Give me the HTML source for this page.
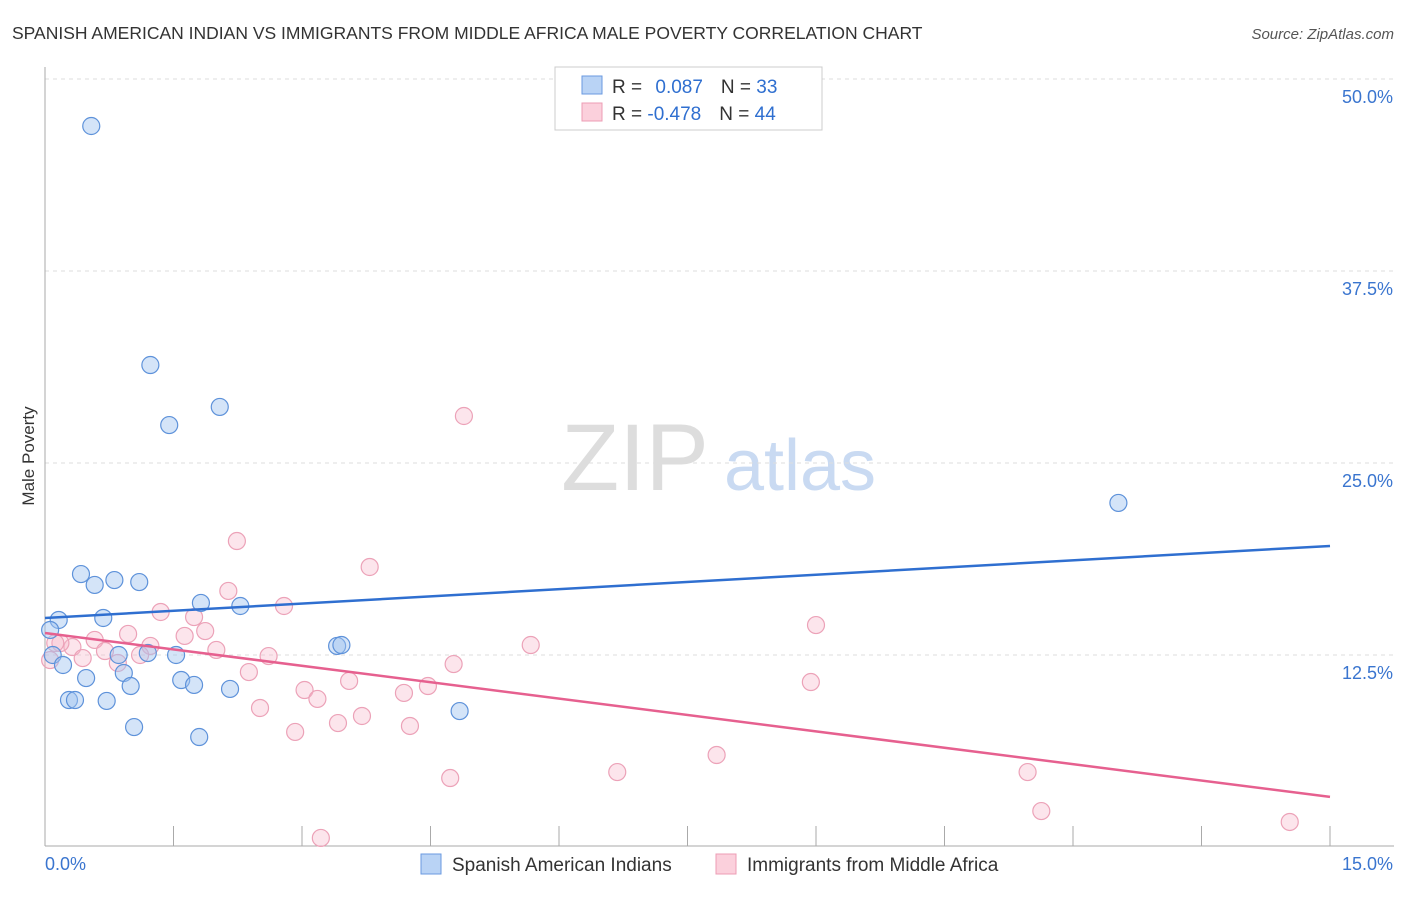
<!DOCTYPE html>
<html><head><meta charset="utf-8"><style>
body{margin:0;background:#fff;font-family:"Liberation Sans",sans-serif}
svg text{font-family:"Liberation Sans",sans-serif}
</style></head><body>
<svg id="c" width="1406" height="892">
<text x="12" y="39" font-size="17.5" fill="#333">SPANISH AMERICAN INDIAN VS IMMIGRANTS FROM MIDDLE AFRICA MALE POVERTY CORRELATION CHART</text>
<text x="1394" y="39" font-size="15" fill="#555" font-style="italic" text-anchor="end">Source: ZipAtlas.com</text>
<text x="34" y="456" font-size="17" fill="#333" text-anchor="middle" transform="rotate(-90 34 456)">Male Poverty</text>
<g><text x="635" y="490" font-size="95" fill="#ddd" font-family="Liberation Serif" text-anchor="middle">ZIP</text><text x="800" y="490" font-size="72" fill="#c9daf2" text-anchor="middle">atlas</text></g>
<g id="grid"></g><g id="axes"></g><g id="pts"></g><g id="trend"></g>
<g>
<rect x="555" y="67" width="267" height="63" fill="#fff" stroke="#ccc"/>
<rect x="582" y="76" width="20" height="18" fill="#b9d3f5" stroke="#6a9ae0"/>
<rect x="582" y="103" width="20" height="18" fill="#fbd0dc" stroke="#ec9db4"/>
<text x="612" y="93" font-size="19" fill="#333">R = <tspan fill="#2f6fd0" dx="8">0.087</tspan><tspan dx="18" fill="#333">N = </tspan><tspan fill="#2f6fd0">33</tspan></text>
<text x="612" y="120" font-size="19" fill="#333">R = <tspan fill="#2f6fd0">-0.478</tspan><tspan dx="18" fill="#333">N = </tspan><tspan fill="#2f6fd0">44</tspan></text>
</g>
<g>
<rect x="421" y="854" width="20" height="20" fill="#b9d3f5" stroke="#6a9ae0"/>
<text x="452" y="871" font-size="19" fill="#333">Spanish American Indians</text>
<rect x="716" y="854" width="20" height="20" fill="#fbd0dc" stroke="#ec9db4"/>
<text x="747" y="871" font-size="19" fill="#333">Immigrants from Middle Africa</text>
</g>
</svg>
<script>
const blueX=[0.54,1.23,1.45,2.04,12.53,0.42,0.58,0.81,1.10,0.16,0.68,1.82,2.28,3.41,3.46,0.09,0.21,0.86,1.20,1.53,0.48,0.92,1.00,1.59,1.74,2.16,0.28,0.35,0.72,1.04,1.80,4.84,0.06];
const blueY=[46.94,31.38,27.47,28.65,22.40,17.77,17.06,17.38,17.25,14.78,14.91,15.89,15.69,13.09,13.15,12.50,11.85,12.50,12.63,12.50,11.00,11.33,10.48,10.87,10.55,10.29,9.57,9.57,9.51,7.81,7.16,8.85,14.13];
const pinkX=[4.89,2.24,3.79,2.14,2.79,1.35,1.74,1.87,9.00,5.67,1.63,0.97,0.58,1.23,0.32,0.18,0.06,0.70,1.11,0.44,2.00,2.61,0.85,2.38,4.77,3.55,4.47,3.03,4.19,3.18,8.94,2.51,3.70,3.42,4.26,2.92,7.84,6.68,4.73,11.47,11.63,3.22,14.53,0.12];
const pinkY=[28.06,19.92,18.23,16.67,15.69,15.30,14.97,14.06,14.45,13.15,13.74,13.87,13.48,13.09,13.02,13.28,12.17,12.76,12.50,12.30,12.83,12.43,11.98,11.39,11.91,10.81,10.48,10.22,10.03,9.64,10.74,9.05,8.53,8.07,7.88,7.49,5.99,4.88,4.49,4.88,2.34,0.59,1.63,13.28];
const blueTrend=[14.91,19.60];
const pinkTrend=[13.93,3.26];
const yTicks=[12.5,25,37.5,50];
const yLabels=["12.5%","25.0%","37.5%","50.0%"];
const xTicks=[0,1.5,3,4.5,6,7.5,9,10.5,12,13.5,15];
const NS="http://www.w3.org/2000/svg";
const sx=v=>45+v*(1285/15);
const sy=v=>847-v*(192/12.5);
function mk(tag,attrs,parent){const e=document.createElementNS(NS,tag);for(const k in attrs)e.setAttribute(k,attrs[k]);document.getElementById(parent).appendChild(e);return e;}
yTicks.forEach((t,i)=>{
 const l=mk('line',{x1:45,x2:1394,y1:sy(t),y2:sy(t),stroke:'#ddd','stroke-dasharray':'4,4'},'grid');
 
 
 const tx=mk('text',{x:1393,y:sy(t)+24,'font-size':18,fill:'#3a75cf','text-anchor':'end'},'grid');
 tx.textContent=yLabels[i];
 
 
});
const ax=mk('line',{x1:45,x2:45,y1:67,y2:846,stroke:'#aaa'},'axes');


const bx=mk('line',{x1:45,x2:1394,y1:846,y2:846,stroke:'#aaa'},'axes');


xTicks.forEach(t=>{
 const l=mk('line',{x1:sx(t),x2:sx(t),y1:826,y2:846,stroke:'#aaa'},'axes');
 
 
});
const x0=mk('text',{x:45,y:870,'font-size':18,fill:'#3a75cf'},'axes');x0.textContent='0.0%';


const x1=mk('text',{x:1393,y:870,'font-size':18,fill:'#3a75cf','text-anchor':'end'},'axes');x1.textContent='15.0%';


pinkX.forEach((x,i)=>{
 const c=mk('circle',{cx:sx(x),cy:sy(pinkY[i]),r:8.5,fill:'rgba(246,180,200,0.35)',stroke:'#eca2b8','stroke-width':1.2},'pts');
 
 
});
blueX.forEach((x,i)=>{
 const c=mk('circle',{cx:sx(x),cy:sy(blueY[i]),r:8.5,fill:'rgba(160,196,240,0.45)',stroke:'#5e92da','stroke-width':1.2},'pts');
 
 
});
const bt=mk('line',{x1:sx(0),y1:sy(blueTrend[0]),x2:sx(15),y2:sy(blueTrend[1]),stroke:'#2f6fd0','stroke-width':2.5},'trend');


const pt=mk('line',{x1:sx(0),y1:sy(pinkTrend[0]),x2:sx(15),y2:sy(pinkTrend[1]),stroke:'#e6608f','stroke-width':2.5},'trend');


</script>
</body></html>
